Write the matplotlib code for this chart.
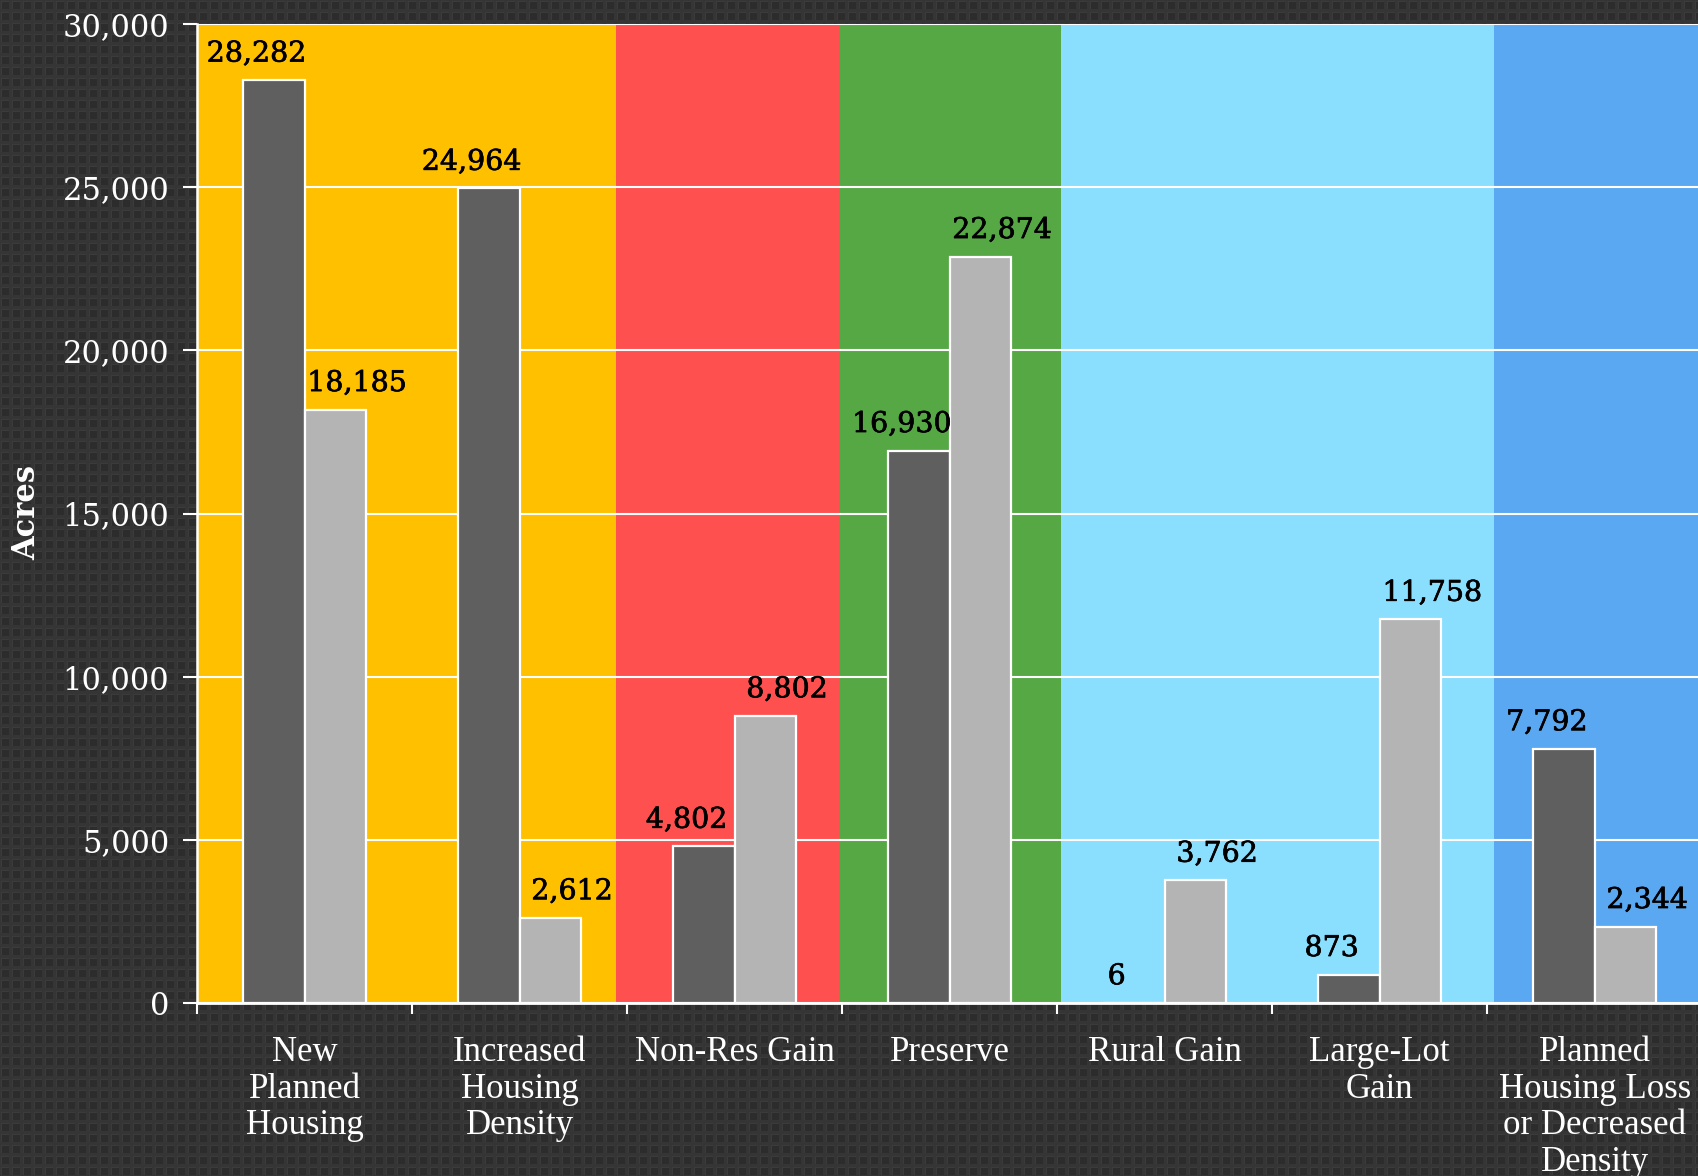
import numpy as np
import matplotlib
matplotlib.use("Agg")
import matplotlib.pyplot as plt
import matplotlib.patheffects as pe

# ---- data ----
categories = ["New\nPlanned\nHousing", "Increased\nHousing\nDensity", "Non-Res Gain",
              "Preserve", "Rural Gain", "Large-Lot\nGain",
              "Planned\nHousing Loss\nor Decreased\nDensity"]
series_dark = [28282, 24964, 4802, 16930, 6, 873, 7792]
series_light = [18185, 2612, 8802, 22874, 3762, 11758, 2344]
y_ticks = [0, 5000, 10000, 15000, 20000, 25000, 30000]
y_label = "Acres"

# background bands: (start, end, colour) in category units
band_edges = [-0.5, 1.45, 2.49, 3.52, 5.53, 6.6]
band_colors = ["#FFC000", "#FF5050", "#55A844", "#8ADFFE", "#5AA8F1"]

W, H, DPI = 1698, 1176, 100
fig = plt.figure(figsize=(W / DPI, H / DPI), dpi=DPI)

# textured dark background
bg = np.full((H, W), 0x35, dtype=float)
yy, xx = np.mgrid[0:H, 0:W]
px, py = xx % 11, yy % 11
sq = (px >= 2) & (px < 9) & (py >= 2) & (py < 9)
bg[sq] = 0x2c
bg[(px == 1) & (py >= 1) & (py < 9)] = 0x3b
bg[(py == 1) & (px >= 1) & (px < 9)] = 0x3b
bg = bg / 255.0
bgax = fig.add_axes([0, 0, 1, 1], zorder=-10)
bgax.imshow(np.dstack([bg, bg, bg]), aspect="auto", interpolation="nearest")
bgax.axis("off")

ax = fig.add_axes([197 / W, 1 - 1003 / H, 1 - 197 / W, (1003 - 24) / H])
ax.set_facecolor("none")

for i, c in enumerate(band_colors):
    ax.axvspan(band_edges[i], band_edges[i + 1], color=c, zorder=0, lw=0)

x = np.arange(len(categories))
bw = 0.287
ax.bar(x - bw / 2, series_dark, width=bw, color="#5F5F5F", edgecolor="white",
       linewidth=1.6, zorder=3)
ax.bar(x + bw / 2, series_light, width=bw, color="#B4B4B4", edgecolor="white",
       linewidth=1.6, zorder=3)

stroke = [pe.withStroke(linewidth=0.5, foreground="black")]
for xi, v in zip(x, series_dark):
    ax.annotate(f"{v:,}", (xi - bw / 2 - 0.08, v), xytext=(0, 9), textcoords="offset points",
                ha="center", va="bottom", fontsize=20.5, family="DejaVu Serif", color="black",
                zorder=5, path_effects=stroke)
for xi, v in zip(x, series_light):
    ax.annotate(f"{v:,}", (xi + bw / 2 + 0.1, v), xytext=(0, 9), textcoords="offset points",
                ha="center", va="bottom", fontsize=20.5, family="DejaVu Serif", color="black",
                zorder=5, path_effects=stroke)

ax.set_xlim(-0.5, 6.48)
ax.set_ylim(0, 30000)
ax.set_yticks(y_ticks)
ax.set_yticklabels([f"{t:,}" for t in y_ticks], fontsize=22, family="DejaVu Serif",
                   color="white")
ax.yaxis.grid(True, color="white", linewidth=1.5, zorder=1)
ax.set_axisbelow(False)
for gl in ax.get_ygridlines():
    gl.set_zorder(1)

ax.set_xticks(x)
ax.set_xticklabels(categories, fontsize=25, family="Liberation Serif", color="white",
                   linespacing=1.14, va="top")
ax.set_xticks(np.arange(-0.5, 6.5, 1.0), minor=True)
ax.tick_params(axis="x", which="major", length=0, pad=24)
ax.tick_params(axis="x", which="minor", length=8, width=1.5, color="white")
ax.tick_params(axis="y", length=10, width=1.5, color="white", pad=10)

for s in ["top", "right"]:
    ax.spines[s].set_visible(False)
ax.spines["left"].set_color("white")
ax.spines["left"].set_linewidth(1.8)
ax.spines["bottom"].set_color("white")
ax.spines["bottom"].set_linewidth(2)
ax.spines["left"].set_zorder(6)
ax.spines["bottom"].set_zorder(6)

fig.text(27 / W, 1 - 512 / H, y_label, rotation=90, ha="center", va="center",
         fontsize=22, fontweight="bold", family="DejaVu Serif", color="white")

fig.savefig("out.png", dpi=DPI)
